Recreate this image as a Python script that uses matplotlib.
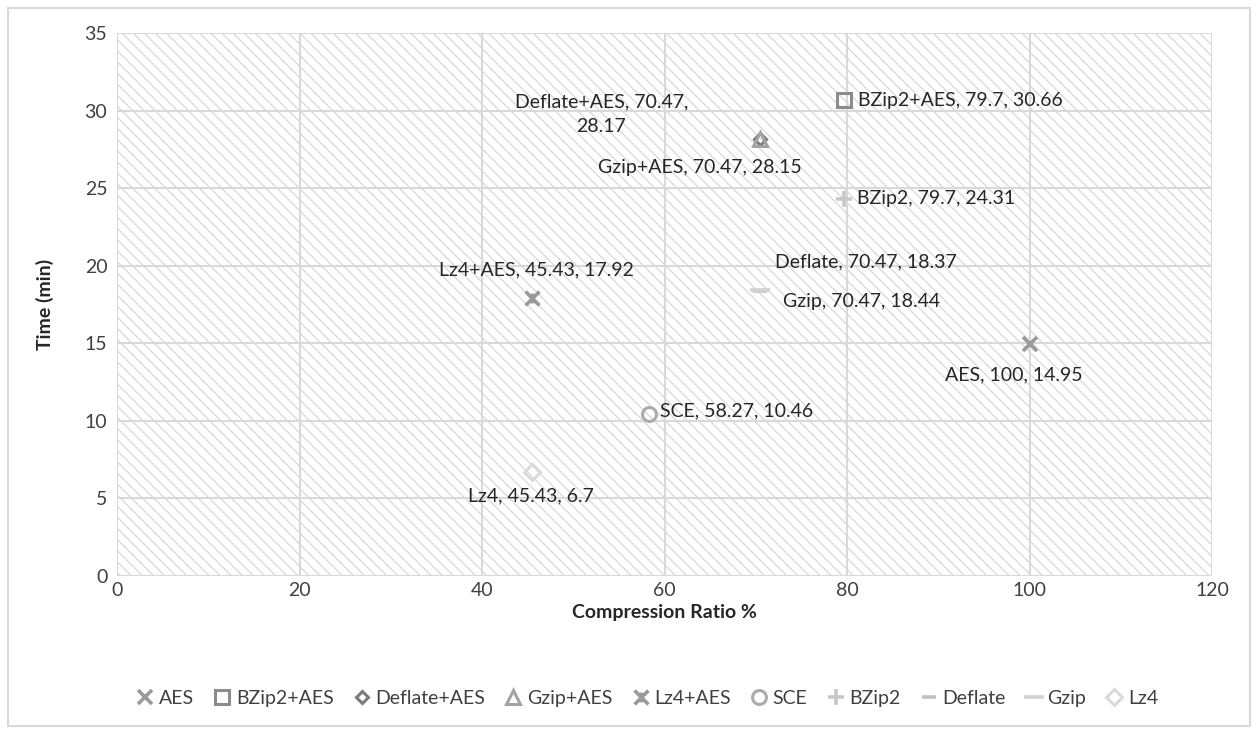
import matplotlib.pyplot as plt
from matplotlib.patches import Rectangle
from matplotlib.path import Path

plt.rcParams['font.family'] = ['Lato', 'DejaVu Sans']
plt.rcParams['hatch.linewidth'] = 0.8
plt.rcParams['hatch.color'] = '#d4d4d4'

# compression ratio (%) and run time (min) per method
names = ['AES', 'BZip2+AES', 'Deflate+AES', 'Gzip+AES', 'Lz4+AES',
         'SCE', 'BZip2', 'Deflate', 'Gzip', 'Lz4']
ratio = [100, 79.7, 70.47, 70.47, 45.43, 58.27, 79.7, 70.47, 70.47, 45.43]
time_min = [14.95, 30.66, 28.17, 28.15, 17.92, 10.46, 24.31, 18.37, 18.44, 6.7]

# x-shaped star with a vertical bar, like the spreadsheet "star" marker
star = Path([(-1, -1), (1, 1), (-1, 1), (1, -1), (0, -0.7), (0, 0.7)],
            [Path.MOVETO, Path.LINETO, Path.MOVETO, Path.LINETO,
             Path.MOVETO, Path.LINETO])

markers = ['x', 's', 'D', '^', star, 'o', '+', '_', '_', 'D']
colors = ['#9a9a9a', '#8c8c8c', '#7a7a7a', '#a3a3a3', '#9a9a9a',
          '#ababab', '#c8c8c8', '#c0c0c0', '#d2d2d2', '#dadada']
sizes = [10, 10, 6, 10, 10, 10, 11, 10, 14, 8]
filled = [True, False, False, False, True, False, True, True, True, False]

# label placement: (dx px, dy px, ha, va)
label_pos = {
    'AES': (-16, -22, 'center', 'top'),
    'BZip2+AES': (14, 0, 'left', 'center'),
    'Deflate+AES': (-72, 25, 'right', 'center'),
    'Gzip+AES': (-60, -20, 'center', 'top'),
    'Lz4+AES': (5, 20, 'center', 'bottom'),
    'SCE': (11, 3, 'left', 'center'),
    'BZip2': (13, 0, 'left', 'center'),
    'Deflate': (15, 21, 'left', 'bottom'),
    'Gzip': (23, -3, 'left', 'top'),
    'Lz4': (-1, -15, 'center', 'top'),
}

fig = plt.figure(figsize=(12.58, 7.30), dpi=100)
fig.patches.append(Rectangle((8 / 1258, 0.005), 1242 / 1258, 0.984,
                             transform=fig.transFigure, fill=False,
                             edgecolor='#d9d9d9', linewidth=1.5))
ax = fig.add_axes([117 / 1258, 1 - 576 / 730, 1095 / 1258, 543 / 730])

ax.add_patch(Rectangle((0, 0), 1, 1, transform=ax.transAxes, facecolor='white',
                       hatch='\\\\\\', edgecolor='#d4d4d4', linewidth=0, zorder=0))

for i, name in enumerate(names):
    mfc = colors[i] if filled[i] else 'none'
    thick = markers[i] in ('x', '+', '_') or markers[i] is star
    ax.plot(ratio[i], time_min[i], linestyle='none', marker=markers[i],
            markersize=sizes[i], markeredgecolor=colors[i], markerfacecolor=mfc,
            markeredgewidth=2.6 if thick else 2.2,
            label=name, zorder=3)
    if name == 'Deflate+AES':
        txt = f'{name}, {ratio[i]},\n{time_min[i]}'
    else:
        txt = f'{name}, {ratio[i]:g}, {time_min[i]}'
    dx, dy, ha, va = label_pos[name]
    ax.annotate(txt, (ratio[i], time_min[i]), xytext=(dx * 0.72, dy * 0.72),
                textcoords='offset points', ha=ha, va=va, fontsize=14,
                color='#262626', multialignment='center', linespacing=1.55,
                zorder=4)

ax.set_xlim(0, 120)
ax.set_ylim(0, 35)
ax.set_xticks(range(0, 121, 20))
ax.set_yticks(range(0, 36, 5))
ax.grid(True, color='#d9d9d9', linewidth=1.5, zorder=1)
ax.set_axisbelow(True)
for s in ax.spines.values():
    s.set_visible(False)
ax.tick_params(axis='y', length=0, labelsize=14, labelcolor='#404040', pad=7)
ax.tick_params(axis='x', length=0, labelsize=14, labelcolor='#404040', pad=4)
ax.set_xlabel('Compression Ratio %', fontsize=14, fontweight='bold',
              color='#262626', labelpad=4)
ax.set_ylabel('Time (min)', fontsize=14, fontweight='bold',
              color='#262626', labelpad=22)

ax.legend(loc='center', bbox_to_anchor=(0.483, -0.225), ncol=10, frameon=False,
          fontsize=14, handletextpad=0.1, columnspacing=0.85, handlelength=1.2,
          labelcolor='#404040')

plt.savefig('out.png', dpi=100)
